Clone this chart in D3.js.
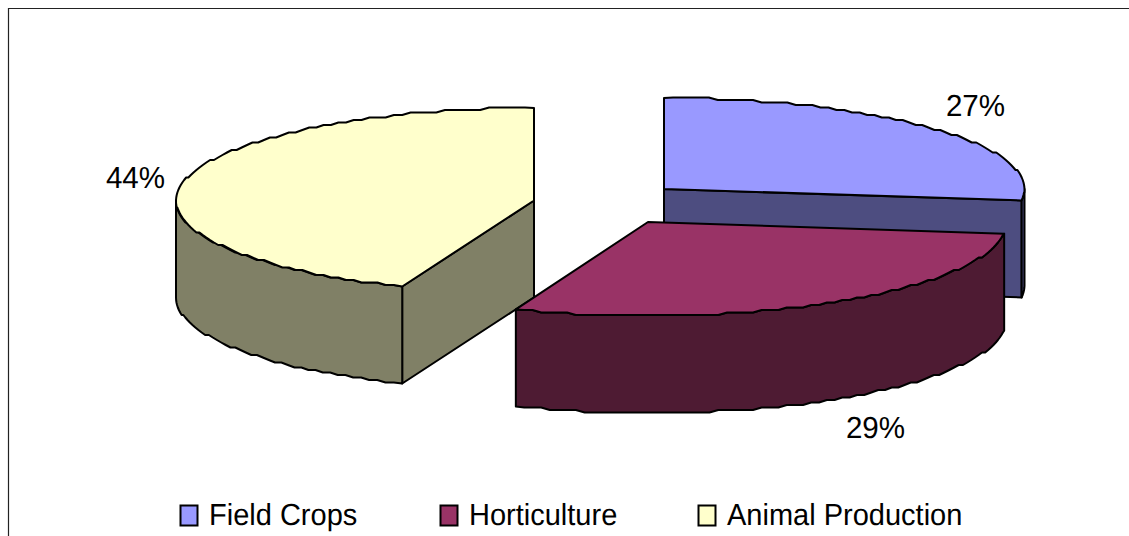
<!DOCTYPE html>
<html><head><meta charset="utf-8">
<script src="https://cdn.jsdelivr.net/npm/d3@7"></script>
<style>html,body{margin:0;padding:0;background:#fff;overflow:hidden}svg{display:block}text{font-family:"Liberation Sans",Arial,sans-serif;fill:#000;text-rendering:geometricPrecision}</style>
</head><body>
<svg id="c" width="1129" height="536"></svg>
<script>
const categories = ["Field Crops", "Horticulture", "Animal Production"];
const shares = [27, 29, 44];
const topColors = ["#9999FF", "#993366", "#FFFFCC"];
const sideColors = ["#4D4D80", "#4E1B33", "#808066"];
const apexes = [[664, 189], [648, 222], [534, 200.5]];
const radiiX = [360.5, 359, 358];
const radiiY = [91, 94, 92.5];
const labelAnchors = [[975.5, 115.5], [875.5, 437.5], [135.5, 188]];
const legendSwatchX = [180, 440, 698];
const drawOrder = [0, 2, 1];

const W = 1129, H = 536, DEPTH = 97, FONT = 29, GRID = 2.5, SEGMENT = 9;
const svg = d3.select("#c");
const arcs = d3.pie().sort(null).value(d => d)(shares);
const proj = (i, a, z = 0) => [apexes[i][0] + radiiX[i] * Math.sin(a), apexes[i][1] - radiiY[i] * Math.cos(a) + z];
const line = d3.line();
// rim outline, stepped slightly like the low-resolution plotter curve of the source
const sample = (i, a0, a1, z = 0) => {
  const n = Math.max(2, Math.round(Math.abs(a1 - a0) * radiiX[i] / SEGMENT));
  return d3.range(0, n + 1).map(k => {
    const p = proj(i, a0 + (a1 - a0) * k / n, z);
    return k === 0 || k === n ? p : [p[0], Math.round(p[1] / GRID) * GRID];
  });
};
const style = (sel, fill) => sel.attr("fill", fill).attr("stroke", "#000").attr("stroke-width", 2).attr("stroke-linejoin", "round");

svg.append("path").attr("d", line([[8.5, H], [8.5, 8.5], [W, 8.5]])).attr("fill", "none").attr("stroke", "#222").attr("stroke-width", 1.2);

drawOrder.forEach(i => {
  const c = apexes[i], a0 = arcs[i].startAngle, a1 = arcs[i].endAngle;
  const g = svg.append("g");
  // radial cut faces that turn toward the viewer
  [[a0, a0 - Math.PI / 2], [a1, a1 + Math.PI / 2]].forEach(([a, normal]) => {
    if (-Math.cos(normal) > 0.01) {
      const p = proj(i, a);
      style(g.append("path").attr("d", line([c, p, [p[0], p[1] + DEPTH], [c[0], c[1] + DEPTH]]) + "Z"), sideColors[i]);
    }
  });
  // outer rim, front half only
  const r0 = Math.max(a0, Math.PI / 2), r1 = Math.min(a1, 3 * Math.PI / 2);
  if (r1 > r0) {
    style(g.append("path").attr("d", line(sample(i, r0, r1).concat(sample(i, r1, r0, DEPTH))) + "Z"), sideColors[i]);
  }
  // top face
  style(g.append("path").attr("d", line([c].concat(sample(i, a0, a1))) + "Z"), topColors[i]);
});

// percentage labels
svg.selectAll("text.pct").data(shares).join("text").attr("class", "pct")
  .attr("transform", (d, i) => `translate(${labelAnchors[i][0]},${labelAnchors[i][1]}) scale(1.02,1.05)`)
  .attr("text-anchor", "middle").attr("font-size", FONT).text(d => d + "%");

// legend
const lg = svg.selectAll("g.lg").data(categories).join("g").attr("class", "lg");
lg.append("rect").attr("x", (d, i) => legendSwatchX[i] + .5).attr("y", 505.5).attr("width", 17).attr("height", 20)
  .attr("fill", (d, i) => topColors[i]).attr("stroke", "#000").attr("stroke-width", 2);
lg.append("text").attr("transform", (d, i) => `translate(${legendSwatchX[i] + 29},525) scale(1,1.05)`)
  .attr("font-size", FONT).text(d => d);
</script>
</body></html>
